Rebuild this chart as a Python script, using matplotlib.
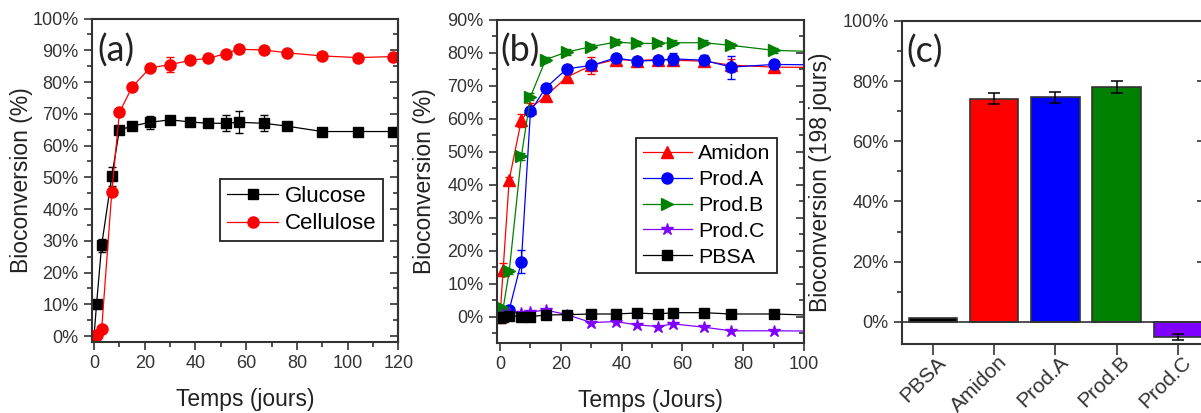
import matplotlib
matplotlib.use("Agg")
import matplotlib.pyplot as plt
import matplotlib.transforms as mtrans
from matplotlib.ticker import MultipleLocator, FuncFormatter

plt.rcParams['font.family'] = ['Liberation Sans', 'DejaVu Sans']

# --- (a) glucose / cellulose ---
days_a = [0, 1, 3, 7, 10, 15, 22, 30, 38, 45, 52, 57, 67, 76, 90, 104, 118]
glucose = [0, 10.1, 28.6, 50.3, 64.9, 66.1, 67.3, 68.1, 67.4, 67.0, 67.0, 67.3, 67.0, 66.1, 64.4, 64.4, 64.4]
glucose_err = [0.3, 0.5, 2.0, 3.0, 1.0, 0.8, 2.0, 1.0, 1.2, 1.0, 2.5, 3.5, 2.5, 0.8, 0.8, 0.5, 0.5]
cellulose = [0, 0.3, 2.1, 45.4, 70.4, 78.4, 84.4, 85.5, 86.8, 87.5, 88.9, 90.3, 90.1, 89.2, 88.2, 87.7, 88.0]
cellulose_err = [0.3, 0.3, 0.5, 1.0, 1.0, 0.8, 0.8, 2.5, 0.8, 0.8, 0.8, 0.8, 0.8, 0.8, 0.8, 0.8, 0.8]

# --- (b) products ---
days_b = [0, 1, 3, 7, 10, 15, 22, 30, 38, 45, 52, 57, 67, 76, 90, 104]
amidon = [0, 14.2, 41.5, 59.6, 63.3, 66.9, 72.7, 76.2, 78.0, 77.7, 78.0, 77.8, 77.5, 76.3, 75.7, 75.6]
amidon_err = [0.5, 2.0, 1.0, 2.0, 1.5, 1.5, 1.5, 2.5, 1.2, 1.2, 1.2, 1.5, 1.5, 2.0, 1.2, 1.0]
prod_a = [0, 0.8, 2.0, 16.7, 62.3, 69.4, 75.2, 76.2, 78.5, 77.5, 77.8, 78.2, 77.8, 75.7, 76.5, 76.4]
prod_a_err = [0.5, 0.5, 0.8, 3.5, 1.0, 0.8, 0.8, 1.0, 0.8, 0.8, 0.8, 1.8, 1.5, 3.5, 0.8, 0.8]
prod_b = [0, 2.5, 13.7, 48.6, 66.7, 78.0, 80.3, 81.9, 83.3, 82.9, 82.9, 83.1, 83.1, 82.3, 80.8, 80.4]
prod_b_err = [0.5, 0.5, 0.8, 1.0, 1.0, 0.8, 0.8, 0.8, 0.8, 0.8, 0.8, 0.8, 0.8, 0.8, 0.8, 0.8]
prod_c = [-0.5, 0.8, 1.0, 1.2, 1.4, 2.0, 0.6, -1.8, -1.5, -2.5, -3.0, -2.2, -3.2, -4.3, -4.3, -4.4]
pbsa = [-0.5, 0.0, 0.3, 0.0, 0.0, 0.5, 0.6, 0.8, 0.8, 1.1, 0.8, 1.2, 1.2, 0.8, 0.8, 0.4]

# --- (c) final bioconversion after 198 days ---
cats = ['PBSA', 'Amidon', 'Prod.A', 'Prod.B', 'Prod.C']
final = [1.2, 74.2, 74.6, 78.0, -5.0]
final_err = [0, 1.8, 1.8, 2.0, 1.0]
bar_colors = ['black', '#FF0000', '#0000FF', '#008000', '#7F00FF']

SPINE = '#333333'
pct = FuncFormatter(lambda v, p: f'{v:.0f}%')


def style_axes(ax, right_minor=True):
    for s in ax.spines.values():
        s.set_linewidth(1.5)
        s.set_color(SPINE)
    ax.tick_params(which='both', direction='out', color=SPINE, width=1.2,
                   labelsize=13, labelcolor='#333333', top=False, right=False)
    ax.tick_params(which='major', length=6)
    ax.tick_params(which='minor', length=3.5)
    # inward ticks on the right spine
    sec = ax.secondary_yaxis('right')
    sec.set_yticks(ax.get_yticks())
    sec.tick_params(direction='in', length=6, width=1.2, color=SPINE, labelright=False)
    if right_minor:
        sec.yaxis.set_minor_locator(ax.yaxis.get_minor_locator())
        sec.tick_params(which='minor', direction='in', length=3.5, width=1.2, color=SPINE)
    sec.spines['right'].set_linewidth(1.5)
    sec.spines['right'].set_color(SPINE)


def curve(ax, x, y, err, color, marker, ms, label):
    if err is not None:
        ax.errorbar(x, y, yerr=err, fmt='none', ecolor=color, elinewidth=0.9, capsize=3)
    line, = ax.plot(x, y, color=color, marker=marker, ms=ms, lw=0.9, label=label)
    return line


fig = plt.figure(figsize=(12.01, 4.13), dpi=100)

# ---------------- (a) ----------------
ax1 = fig.add_axes([0.0764, 0.1726, 0.2553, 0.7826])
h1 = [curve(ax1, days_a, glucose, glucose_err, 'black', 's', 7.5, 'Glucose'),
      curve(ax1, days_a, cellulose, cellulose_err, '#FF0000', 'o', 8, 'Cellulose')]
ax1.set_xlim(-0.9, 120)
ax1.set_ylim(-1.8, 100)
ax1.xaxis.set_major_locator(MultipleLocator(20))
ax1.xaxis.set_minor_locator(MultipleLocator(10))
ax1.yaxis.set_major_locator(MultipleLocator(10))
ax1.yaxis.set_minor_locator(MultipleLocator(5))
ax1.yaxis.set_major_formatter(pct)
style_axes(ax1)
ax1.set_ylim(-1.8, 100)
ax1.set_xlabel('Temps (jours)', fontsize=16.5, color='#222222')
ax1.set_ylabel('Bioconversion (%)', fontsize=16.5, color='#222222')
ax1.xaxis.set_label_coords(0.5, -0.143)
ax1.yaxis.set_label_coords(-0.191, 0.5)
ax1.text(0.017, 0.90, '(a)', transform=ax1.transAxes, fontsize=26,
         family=['Lato', 'DejaVu Sans'], ha='left', va='center', color='#222222')
leg1 = ax1.legend(handles=h1, loc='upper right', bbox_to_anchor=(0.95, 0.503), fontsize=16,
                  frameon=True, fancybox=False, edgecolor='#222222', framealpha=1,
                  handlelength=2.3, handletextpad=0.3, labelspacing=0.3,
                  borderpad=0.3, borderaxespad=0)
leg1.get_frame().set_linewidth(1.3)

# ---------------- (b) ----------------
ax2 = fig.add_axes([0.4136, 0.1695, 0.2559, 0.7821])
h2 = [curve(ax2, days_b, amidon, amidon_err, '#FF0000', '^', 8.5, 'Amidon'),
      curve(ax2, days_b, prod_a, prod_a_err, '#0000FF', 'o', 8, 'Prod.A'),
      curve(ax2, days_b, prod_b, prod_b_err, '#008000', '>', 8.5, 'Prod.B'),
      curve(ax2, days_b, prod_c, None, '#7F00FF', '*', 9, 'Prod.C'),
      curve(ax2, days_b, pbsa, None, 'black', 's', 7, 'PBSA')]
ax2.set_xlim(-1.1, 100)
ax2.xaxis.set_major_locator(MultipleLocator(20))
ax2.xaxis.set_minor_locator(MultipleLocator(10))
ax2.yaxis.set_major_locator(MultipleLocator(10))
ax2.yaxis.set_minor_locator(MultipleLocator(5))
ax2.yaxis.set_major_formatter(pct)
ax2.set_ylim(-8, 90)
style_axes(ax2)
ax2.set_ylim(-8, 90)
ax2.set_xlabel('Temps (Jours)', fontsize=16.5, color='#222222')
ax2.set_ylabel('Bioconversion (%)', fontsize=16.5, color='#222222')
ax2.xaxis.set_label_coords(0.5, -0.143)
ax2.yaxis.set_label_coords(-0.198, 0.5)
ax2.text(0.011, 0.904, '(b)', transform=ax2.transAxes, fontsize=26,
         family=['Lato', 'DejaVu Sans'], ha='left', va='center', color='#222222')
leg2 = ax2.legend(handles=h2, loc='upper right', bbox_to_anchor=(0.912, 0.635), fontsize=15.4,
                  frameon=True, fancybox=False, edgecolor='#222222', framealpha=1,
                  handlelength=2.3, handletextpad=0.3, labelspacing=0.32,
                  borderpad=0.3, borderaxespad=0)
leg2.get_frame().set_linewidth(1.3)

# ---------------- (c) ----------------
ax3 = fig.add_axes([0.7508, 0.1671, 0.2525, 0.7821])
xpos = list(range(len(cats)))
ax3.bar(xpos, final, width=0.79, color=bar_colors, edgecolor='#333333', linewidth=1.2)
ax3.errorbar(xpos[1:], final[1:], yerr=final_err[1:], fmt='none', ecolor='black',
             elinewidth=1.1, capsize=4, capthick=1.1)
ax3.axhline(0, color='#333333', lw=1.2)
ax3.set_xlim(-0.506, 4.44)
ax3.set_xticks(xpos)
ax3.set_xticklabels(cats, rotation=45, ha='right', va='center', rotation_mode='anchor')
ax3.yaxis.set_major_locator(MultipleLocator(20))
ax3.yaxis.set_minor_locator(MultipleLocator(10))
ax3.yaxis.set_major_formatter(pct)
ax3.set_ylim(-7.4, 100)
style_axes(ax3, right_minor=False)
ax3.set_ylim(-7.4, 100)
ax3.tick_params(axis='x', labelsize=15, length=8, pad=3)
shift = mtrans.ScaledTranslation(10 / 100, 0, fig.dpi_scale_trans)
for lab in ax3.get_xticklabels():
    lab.set_transform(lab.get_transform() + shift)
ax3.set_ylabel('Bioconversion (198 jours)', fontsize=16.5, color='#222222')
ax3.yaxis.set_label_coords(-0.23, 0.5)
ax3.text(0.017, 0.904, '(c)', transform=ax3.transAxes, fontsize=26,
         family=['Lato', 'DejaVu Sans'], ha='left', va='center', color='#222222')

fig.savefig('out.png', dpi=100)
